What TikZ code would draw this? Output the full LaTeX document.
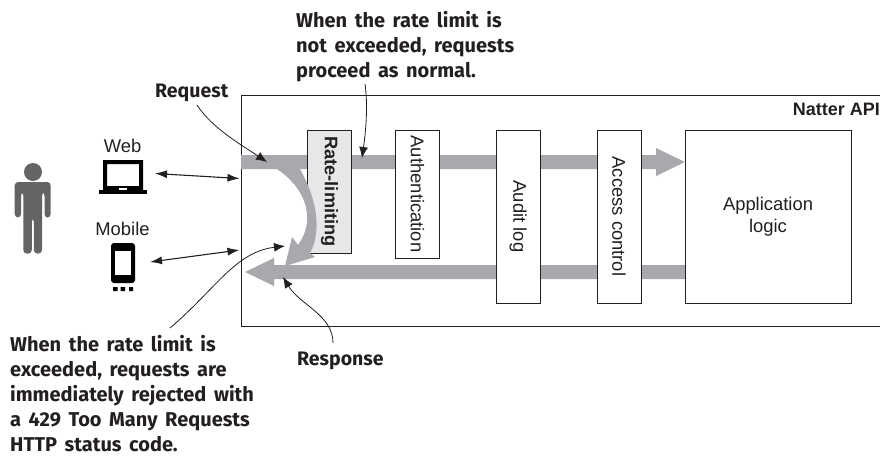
\documentclass[tikz,border=0pt]{standalone}
\usepackage{fontspec}
\setmainfont{Liberation Sans}
\newfontfamily\calloutfont{Fira Sans}[UprightFont=* Bold]
\newfontfamily\sentencefont{Fira Sans}[UprightFont=* Bold,WordSpace=1.6]
\usetikzlibrary{arrows.meta}
\definecolor{ink}{HTML}{231F20}
\definecolor{band}{HTML}{A7A9AC}
\definecolor{figure}{HTML}{636466}
\definecolor{limitfill}{HTML}{E6E7E8}
\tikzset{
  stagebox/.style={draw=ink,line width=1pt,fill=white,inner sep=0pt,rotate=-90,text=ink,font=\fontsize{18.4}{21}\selectfont},
  plainlabel/.style={inner sep=0pt,text=ink,font=\fontsize{18.4}{22}\selectfont,align=center},
  callout/.style={inner sep=0pt,text=ink,align=left,font=\calloutfont\fontsize{19.5}{25}\selectfont},
  sentence/.style={inner sep=0pt,text=ink,align=left,font=\sentencefont\fontsize{20}{25}\selectfont},
  both/.style={ink,line width=1.1pt,{Latex[length=12pt,width=8pt]}-{Latex[length=12pt,width=8pt]}},
  pointer/.style={ink,line width=0.8pt,-{Latex[length=11pt,width=9pt]}},
}
\begin{document}
\begin{tikzpicture}[x=1pt,y=-1pt]
\useasboundingbox (0,0) rectangle (880,455);
\clip (0,0) rectangle (880,455);
% outer API box (runs off the right edge)
\node[draw=ink,line width=1pt,minimum width=680pt,minimum height=231pt,inner sep=0pt,anchor=north west] (api) at (241,95) {};
\node[anchor=base east,inner sep=0pt,text=ink,font=\bfseries\fontsize{18}{21}\selectfont] (title) at (880,115) {Natter API};
% grey flows
\fill[band] (241,155) -- (656,155) -- (656,148) -- (685,162) -- (656,176) -- (656,169) -- (241,169) -- cycle;
\fill[band] (685,265) -- (274,265) -- (274,258) -- (245,272) -- (274,286) -- (274,279) -- (685,279) -- cycle;
% boxes
\node[stagebox,fill=limitfill,minimum width=123pt,minimum height=44pt,font=\bfseries\fontsize{18.2}{21}\selectfont] (rate) at (329.5,191.5) {Rate-limiting};
\node[stagebox,minimum width=128pt,minimum height=44pt] (auth) at (417.5,194) {Authentication};
\node[stagebox,minimum width=173pt,minimum height=44pt] (audit) at (518,216.5) {Audit log};
\node[stagebox,minimum width=173pt,minimum height=44pt] (access) at (619,216.5) {Access control};
\node[draw=ink,line width=1pt,fill=white,minimum width=166pt,minimum height=173pt,inner sep=0pt] (app) at (768,216.5) {};
\node[plainlabel] (applabel) at (768,217) {Application\\logic};
% rejection curve
\fill[band] (277,169) .. controls (295,181) and (309,200) .. (307,222)
  .. controls (306,232) and (302,239) .. (298,245) -- (292,237) -- (285,266) -- (315,257) -- (310,253)
  .. controls (320,235) and (320,205) .. (300,169) -- cycle;
% person
\fill[figure] (33,172) circle[radius=9];
\fill[figure,rounded corners=3.5pt] (14.7,217.5) -- (14.7,182) -- (50.7,182) -- (50.7,217.5) -- (44.5,217.5) -- (44.5,192) -- (42,192) -- (42,253.5) -- (33.8,253.5) -- (33.8,218) -- (31.8,218) -- (31.8,253.5) -- (23.3,253.5) -- (23.3,192) -- (21,192) -- (21,217.5) -- cycle;
% laptop
\fill[black,even odd rule] (103,160) rectangle (143,190) (107,164) rectangle (139,186);
\fill[black] (99,190) rectangle (147,194);
\fill[white] (119,188) rectangle (127,190);
% phone
\fill[black,rounded corners=3pt] (111,243) rectangle (135,283);
\fill[white] (115,251) rectangle (131,275);
\fill[black] (113,287) rectangle (117.5,291) (120.5,287) rectangle (125,291) (129,287) rectangle (133,291);
% labels
\node[plainlabel,anchor=base] (web) at (122.5,152) {Web};
\node[plainlabel,anchor=base] (mobile) at (122.5,235) {Mobile};
\node[callout,anchor=base west] (request) at (155,97) {Request};
\node[callout,anchor=base west] (response) at (297,365) {Response};
\node[sentence,anchor=north west] (ok) at (296,11) {When the rate limit is\\not exceeded, requests\\proceed as normal.};
\node[sentence,anchor=north west] (rej) at (10,335) {When the rate limit is\\exceeded, requests are\\immediately rejected with\\a 429 Too Many Requests\\HTTP status code.};
% connector ends
\coordinate (laptopR) at (155,173.5);
\coordinate (apiW) at (239.5,178.5);
\coordinate (phoneR) at (150,262);
\coordinate (apiM) at (239.5,250);
\coordinate (reqFrom) at (197,105);
\coordinate (reqTip) at (267,162);
\coordinate (okFrom) at (365,84);
\coordinate (okTip) at (362,158);
\coordinate (rejFrom) at (170,328);
\coordinate (rejTip) at (285,246);
\coordinate (respFrom) at (333,343);
\coordinate (respTip) at (283,277);
% connectors
\draw[both] (laptopR) -- (apiW);
\draw[both] (phoneR) -- (apiM);
\draw[pointer] (reqFrom) .. controls (212,128) and (240,144) .. (reqTip);
\draw[pointer] (okFrom) .. controls (368,105) and (366,130) .. (okTip);
\draw[pointer] (rejFrom) .. controls (215,290) and (235,252) .. (rejTip);
\draw[pointer] (respFrom) .. controls (333,315) and (300,305) .. (respTip);
\end{tikzpicture}
\end{document}
